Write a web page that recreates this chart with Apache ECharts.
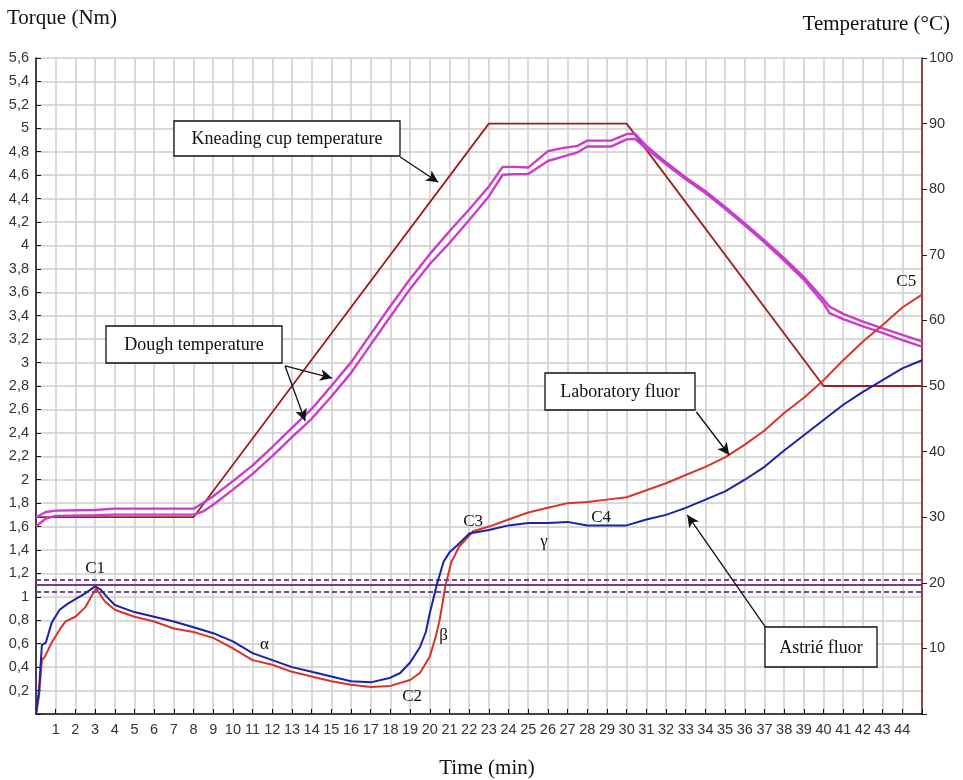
<!DOCTYPE html>
<html>
<head>
<meta charset="utf-8">
<script src="https://cdn.jsdelivr.net/npm/echarts@6/dist/echarts.min.js"></script>
<style>
html,body{margin:0;padding:0;background:#fff;}
#chart{width:963px;height:780px;}
</style>
</head>
<body>
<div id="chart"></div>
<script>
// ---- Torque (Nm), Astrié flour (blue)
const astrieTime = [0,0.15,0.3,0.5,0.8,1.2,1.6,2,2.5,3,3.3,3.6,4,4.5,5,6,7,8,9,10,11,12,13,14,15,16,17,18,18.5,19,19.5,19.8,20,20.35,20.7,21,21.4,22,23,24,25,26,27,28,29,30,31,32,33,34,35,36,37,38,39,40,41,42,43,44,45];
const astrieTorque = [0,0.2,0.59,0.61,0.78,0.89,0.94,0.98,1.03,1.09,1.06,1.0,0.93,0.9,0.87,0.83,0.79,0.74,0.69,0.62,0.52,0.46,0.40,0.36,0.32,0.28,0.27,0.31,0.35,0.44,0.57,0.7,0.86,1.1,1.3,1.38,1.44,1.54,1.57,1.61,1.63,1.63,1.64,1.61,1.61,1.61,1.66,1.70,1.76,1.83,1.90,2.0,2.11,2.25,2.38,2.51,2.64,2.75,2.85,2.95,3.02];

// ---- Torque (Nm), Laboratory flour (red)
const labTime = [0,0.15,0.3,0.45,0.8,1.2,1.5,2,2.5,2.9,3.05,3.5,4,5,6,7,8,9,10,11,12,13,14,15,16,17,18,19,19.5,20,20.3,20.5,20.8,21.1,21.5,22.2,23,24,25,26,27,28,29,30,31,32,33,34,35,36,37,38,39,40,41,42,43,44,45];
const labTorque = [0,0.15,0.46,0.49,0.61,0.72,0.79,0.83,0.91,1.03,1.07,0.96,0.89,0.83,0.79,0.73,0.70,0.65,0.56,0.46,0.42,0.36,0.32,0.28,0.25,0.23,0.24,0.29,0.35,0.49,0.66,0.8,1.1,1.3,1.43,1.56,1.60,1.66,1.72,1.76,1.80,1.81,1.83,1.85,1.91,1.97,2.04,2.11,2.19,2.30,2.42,2.57,2.70,2.85,3.02,3.18,3.32,3.47,3.58];

// ---- Kneading cup temperature (°C)
const cupTime = [0,8,23,30,40,45];
const cupTemp = [30,30,90,90,50,50];

// ---- Dough temperature (°C), two curves
const doughTime = [0,0.5,1,3,4,8,8.5,9,10,11,12,13,14,15,16,17,18,19,20,21,22,23,23.7,24.3,25,26,26.8,27.5,28,29.2,30,30.4,31,32,33,34,35,36,37,38,39,40,40.3,41,42,43,44,45];
const doughTempA = [30.0,30.8,31.0,31.1,31.3,31.3,32.2,33.2,35.5,37.9,40.7,43.6,46.5,50.0,53.6,57.9,62.2,66.3,70.1,73.6,76.9,80.4,83.4,83.4,83.3,85.8,86.3,86.6,87.4,87.4,88.4,88.5,86.6,84.1,81.8,79.7,77.3,74.8,72.2,69.5,66.6,63.2,62.1,61.0,59.8,58.8,57.8,56.8];
const doughTempB = [28.6,29.8,30.2,30.3,30.4,30.4,30.9,31.9,34.2,36.6,39.3,42.2,45.0,48.4,52.0,56.3,60.6,64.8,68.6,71.8,75.3,78.9,82.2,82.3,82.3,84.3,85.0,85.6,86.5,86.5,87.6,87.7,86.2,83.8,81.5,79.4,77.0,74.5,71.9,69.1,66.2,62.6,61.1,60.2,59.1,58.1,57.0,56.0];

// ---- Reference band (Nm)
const bandCenter = 1.10;
const bandEdges = [1.152, 1.04];

// ---- Axis settings
const timeMin = 0, timeMax = 45, timeStep = 1;
const torqueMin = 0, torqueMax = 5.6, torqueStep = 0.2;
const tempMin = 0, tempMax = 100, tempStep = 10;

// ---- Point labels [text, time, torque]
const pointLabels = [['C1',3.0,1.24],['α',11.6,0.59],['C2',19.1,0.15],['β',20.7,0.67],['C3',22.2,1.64],['γ',25.8,1.47],['C4',28.7,1.68],['C5',44.2,3.69]];

// ---- Callout arrows [from(time,torque), to(time,torque)]
const arrows = [
  [[18.5,4.755],[20.43,4.54]],
  [[12.65,2.971],[15.04,2.868]],
  [[12.65,2.971],[13.67,2.501]],
  [[33.54,2.578],[35.21,2.211]],
  [[37.04,0.743],[33.08,1.699]]
];

const zip = (a,b) => a.map((x,i)=>[x,b[i]]);
const serif = '"Liberation Serif", "DejaVu Serif", serif';
const sans = '"Liberation Sans", Arial, sans-serif';

const chart = echarts.init(document.getElementById('chart'));

function box(x,y,w,h,text){
  return {
    type:'group', children:[
      {type:'rect', shape:{x:x,y:y,width:w,height:h}, style:{fill:'#fff',stroke:'#111',lineWidth:1.3}, z:100},
      {type:'text', x:x+w/2, y:y+h/2+1, style:{text:text, font:'18px '+serif, fill:'#111', align:'center', verticalAlign:'middle'}, z:101}
    ]
  };
}

const option = {
  animation:false,
  backgroundColor:'#fff',
  grid:{left:36,right:41,top:58,bottom:66,containLabel:false},
  xAxis:{
    type:'value', min:timeMin, max:timeMax, interval:timeStep,
    axisLine:{show:true,onZero:false,lineStyle:{color:'#111',width:1.5}},
    axisTick:{show:true,inside:true,length:5,lineStyle:{color:'#111'}},
    axisLabel:{color:'#333',fontSize:14.5,fontFamily:sans,margin:8,
      formatter:v=> (v===timeMin||v===timeMax)?'':String(v)},
    splitLine:{show:true,lineStyle:{color:'#cdcdcd',width:1.5}}
  },
  yAxis:[{
    type:'value', min:torqueMin, max:torqueMax, interval:torqueStep,
    axisLine:{show:true,lineStyle:{color:'#111',width:1.5}},
    axisTick:{show:true,inside:true,length:5,lineStyle:{color:'#111'}},
    axisLabel:{color:'#333',fontSize:14.5,fontFamily:sans,margin:7,
      formatter:v=> v===0?'':String(Math.round(v*10)/10).replace('.',',')},
    splitLine:{show:true,lineStyle:{color:'#cdcdcd',width:1.5}}
  },{
    type:'value', min:tempMin, max:tempMax, interval:tempStep, position:'right',
    axisLine:{show:true,lineStyle:{color:'#7a1616',width:1.5}},
    axisTick:{show:true,inside:false,length:5,lineStyle:{color:'#222'}},
    axisLabel:{color:'#333',fontSize:14.5,fontFamily:sans,margin:7,
      formatter:v=> v===0?'':String(v)},
    splitLine:{show:false}
  }],
  series:[
    {
      name:'Kneading cup temperature', type:'line', yAxisIndex:1,
      data:zip(cupTime,cupTemp), showSymbol:false,
      lineStyle:{color:'#a01e1e',width:1.8}, z:3
    },
    {
      name:'Dough temperature A', type:'line', yAxisIndex:1,
      data:zip(doughTime,doughTempA), showSymbol:false,
      lineStyle:{color:'#c83ec8',width:2.4}, z:3
    },
    {
      name:'Dough temperature B', type:'line', yAxisIndex:1,
      data:zip(doughTime,doughTempB), showSymbol:false,
      lineStyle:{color:'#c83ec8',width:2.4}, z:3
    },
    {
      name:'Laboratory fluor', type:'line', yAxisIndex:0,
      data:zip(labTime,labTorque), showSymbol:false,
      lineStyle:{color:'#d8352a',width:2}, z:4,
      markLine:{
        silent:true, symbol:['none','none'], label:{show:false},
        data:[
          {yAxis:bandCenter, lineStyle:{color:'#7a3c82',width:2,type:'solid'}},
          {yAxis:bandEdges[0], lineStyle:{color:'#6e4a8e',width:2,type:[5,3]}},
          {yAxis:bandEdges[1], lineStyle:{color:'#6e4a8e',width:2,type:[5,3]}}
        ]
      }
    },
    {
      name:'Astrié fluor', type:'line', yAxisIndex:0,
      data:zip(astrieTime,astrieTorque), showSymbol:false,
      lineStyle:{color:'#1c22a6',width:2}, z:5,
      markLine:{
        silent:true, symbol:['none','arrow'], symbolSize:[9,12],
        label:{show:false},
        lineStyle:{color:'#111',width:1.3,type:'solid'},
        data:arrows.map(a=>[{coord:a[0]},{coord:a[1]}])
      },
      markPoint:{
        silent:true, symbol:'circle', symbolSize:0,
        data:pointLabels.map(p=>({name:p[0],coord:[p[1],p[2]],value:p[0]})),
        label:{show:true,position:'inside',formatter:'{b}',color:'#111',fontSize:17,fontFamily:serif}
      }
    }
  ],
  graphic:[
    {type:'text', left:7, top:8, style:{text:'Torque (Nm)', font:'21px '+serif, fill:'#111'}},
    {type:'text', right:13, top:14, style:{text:'Temperature (°C)', font:'21px '+serif, fill:'#111'}},
    {type:'text', x:487, y:768, style:{text:'Time (min)', font:'21px '+serif, fill:'#111', align:'center', verticalAlign:'middle'}},
    box(174,121,226,35,'Kneading cup temperature'),
    box(106,326,176,37,'Dough temperature'),
    box(545,373,150,37,'Laboratory fluor'),
    box(765,627,112,40,'Astrié fluor')
  ]
};
chart.setOption(option);
</script>
</body>
</html>
